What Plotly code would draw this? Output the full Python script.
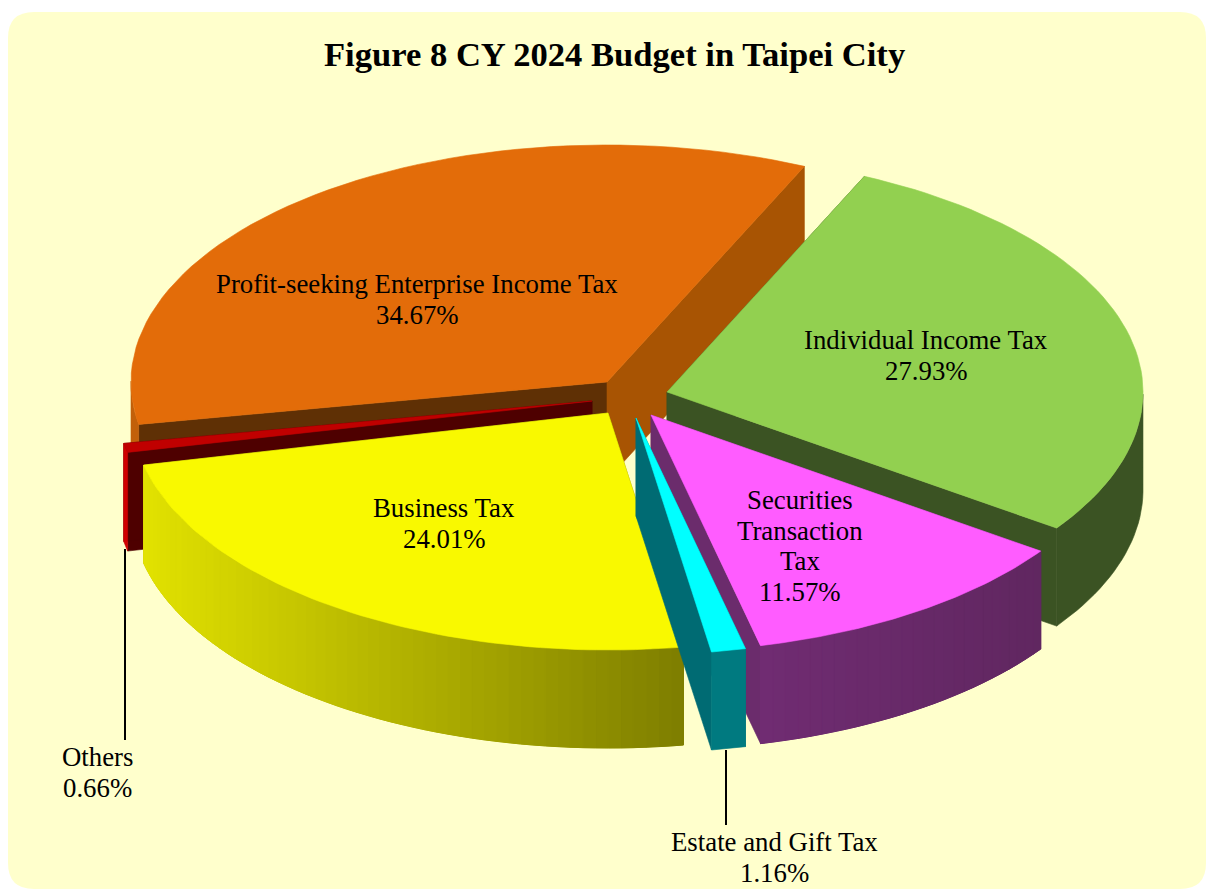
import math
import plotly.graph_objects as go

# ---- data (clockwise from the start angle) ----
names = ["Individual Income Tax", "Securities<br>Transaction<br>Tax", "Estate and Gift Tax",
         "Business Tax", "Others", "Profit-seeking Enterprise Income Tax"]
shares = [27.93, 11.57, 1.16, 24.01, 0.66, 34.67]
title_text = "Figure 8 CY 2024 Budget in Taipei City"

# ---- styling ----
top_colors = ["#92D050", "#FF5CFF", "#00FFFF", "#F9F900", "#C00000", "#E36C09"]
wall_left = ["#3B5323", "#702C72", "#007A80", "#E2E200", "#D00000", "#C2600A"]
wall_right = ["#3B5323", "#602760", "#007A80", "#7E7E00", "#D00000", "#C2600A"]
cut_first = ["#3B5323", "#6B2C6C", "#006B73", "#7E7E00", "#4E0000", "#5F3005"]
cut_last = ["#3B5323", "#6B2C6C", "#006B73", "#7E7E00", "#4E0000", "#A85403"]
pull_dx = [37, 21, 6, -22, -38, -23]
pull_dy = [-8, 15, 18, 13, 1, -18]
draw_order = [5, 0, 4, 3, 1, 2]
label_pos = [(926, 340), (800, 500), (774, 842), (444, 508), (97, 757), (417, 284)]
line_pitch = 30.5
leaders = {4: ((125, 549), (125, 740)), 2: ((726, 750), (726, 825))}

CX, CY = 630, 400
RX, RY = 476, 237
DEPTH = 98
START = 65.5
FONT = "Liberation Serif"

fig = go.Figure()


def poly(pts, color, lw=0.6):
    xs = [p[0] for p in pts] + [pts[0][0]]
    ys = [p[1] for p in pts] + [pts[0][1]]
    fig.add_trace(go.Scatter(x=xs, y=ys, mode="lines", fill="toself", fillcolor=color,
                             line=dict(color=color, width=lw), hoverinfo="skip",
                             showlegend=False))


def mix(a, b, t):
    ca = [int(a[i:i + 2], 16) for i in (1, 3, 5)]
    cb = [int(b[i:i + 2], 16) for i in (1, 3, 5)]
    return "#%02X%02X%02X" % tuple(round(u + (v - u) * t) for u, v in zip(ca, cb))


spans = []
angle = START
for s in shares:
    sweep = s / sum(shares) * 360
    spans.append((angle, angle - sweep))
    angle -= sweep


def rim(i, a):
    r = math.radians(a)
    return (CX + pull_dx[i] + RX * math.cos(r), CY + pull_dy[i] - RY * math.sin(r))


def down(p):
    return (p[0], p[1] + DEPTH)


for i in draw_order:
    a0, a1 = spans[i]
    apex = (CX + pull_dx[i], CY + pull_dy[i])
    first, last = rim(i, a0), rim(i, a1)
    poly([apex, first, down(first), down(apex)], cut_first[i])
    poly([apex, last, down(last), down(apex)], cut_last[i])
    n = max(2, int((a0 - a1) / 1.5))
    angs = [a0 + (a1 - a0) * k / n for k in range(n + 1)]
    # only the part of the outer wall that faces the viewer
    angs = [a for a in angs if math.sin(math.radians(a)) <= 0.01]
    pts = [rim(i, a) for a in angs]
    if len(pts) >= 2:
        poly(pts + [down(p) for p in reversed(pts)], mix(wall_left[i], wall_right[i], 0.5))
        if wall_left[i] != wall_right[i]:
            xmin, xmax = min(p[0] for p in pts), max(p[0] for p in pts)
            for p, q in zip(pts, pts[1:]):
                t = ((p[0] + q[0]) / 2 - xmin) / max(xmax - xmin, 1)
                poly([p, q, down(q), down(p)], mix(wall_left[i], wall_right[i], t), lw=1)
    fine = [rim(i, a0 + (a1 - a0) * k / 60) for k in range(61)]
    poly([apex] + fine, top_colors[i])

for i, (p, q) in leaders.items():
    fig.add_trace(go.Scatter(x=[p[0], q[0]], y=[p[1], q[1]], mode="lines",
                             line=dict(color="black", width=2), hoverinfo="skip", showlegend=False))

for name, s, (x, y) in zip(names, shares, label_pos):
    for k, line in enumerate(name.split("<br>") + [f"{s:.2f}%"]):
        fig.add_annotation(x=x, y=y + k * line_pitch, text=line, showarrow=False,
                           font=dict(family=FONT, size=26.8, color="black"), align="center")

fig.add_annotation(x=614, y=54, text=f"<b>{title_text}</b>", showarrow=False,
                   font=dict(family=FONT, size=34.6, color="black"))

x0, y0, x1, y1, rad = 8, 12, 1206, 889, 26
panel = (f"M{x0 + rad},{y0} L{x1 - rad},{y0} Q{x1},{y0} {x1},{y0 + rad} L{x1},{y1 - rad} "
         f"Q{x1},{y1} {x1 - rad},{y1} L{x0 + rad},{y1} Q{x0},{y1} {x0},{y1 - rad} "
         f"L{x0},{y0 + rad} Q{x0},{y0} {x0 + rad},{y0} Z")

fig.update_layout(
    width=1206, height=889, margin=dict(l=0, r=0, t=0, b=0),
    paper_bgcolor="white", plot_bgcolor="white", showlegend=False,
    xaxis=dict(range=[0, 1206], visible=False, fixedrange=True),
    yaxis=dict(range=[889, 0], visible=False, fixedrange=True),
    shapes=[dict(type="path", path=panel, xref="x", yref="y", layer="below",
                 fillcolor="#FFFFCC", line=dict(width=0))],
)

fig.write_html("out.html", config={"displayModeBar": False},
               post_script="document.body.style.margin='0';document.body.style.overflow='hidden';")
